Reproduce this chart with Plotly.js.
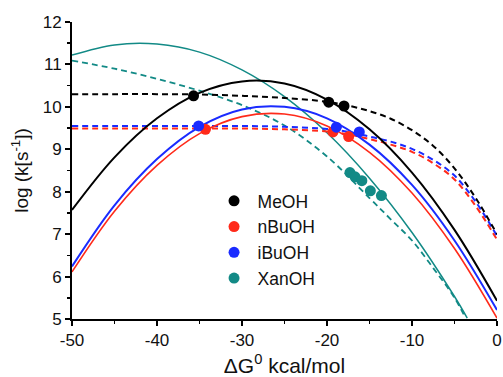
<!DOCTYPE html>
<html>
<head>
<meta charset="utf-8">
<script src="https://cdn.plot.ly/plotly-3.0.1.min.js"></script>
<style>html,body{margin:0;padding:0;background:#fff;}#chart{width:503px;height:377px;}</style>
</head>
<body>
<div id="chart"></div>
<script>
// ---- data ----
const curveX = [-50, -45, -40, -35, -30, -25, -20, -15, -10, -5, 0];

const meohSolid   = [7.57, 8.81, 9.73, 10.33, 10.60, 10.55, 10.17, 9.47, 8.45, 7.10, 5.43];
const nbuohSolid  = [6.11, 7.54, 8.62, 9.37, 9.77, 9.83, 9.55, 8.93, 7.97, 6.66, 5.02];
const ibuohSolid  = [6.24, 7.68, 8.77, 9.53, 9.94, 10.00, 9.73, 9.11, 8.16, 6.85, 5.21];
const xanSolidX   = [-50, -45, -40, -35, -30, -25, -20, -15, -10, -5, -3.5];
const xanSolid    = [11.22, 11.46, 11.48, 11.29, 10.87, 10.24, 9.39, 8.32, 7.04, 5.53, 5.02];

const dashX       = [-50, -45, -40, -35, -30, -25, -20, -17.5, -15, -12.5, -10, -7.5, -5, -2.5, 0];
const meohDash    = [10.30, 10.30, 10.30, 10.29, 10.26, 10.21, 10.12, 10.03, 9.90, 9.72, 9.45, 9.08, 8.55, 7.85, 7.00];
const ibuohDash   = [9.55, 9.55, 9.55, 9.55, 9.55, 9.53, 9.48, 9.41, 9.30, 9.18, 9.01, 8.75, 8.38, 7.76, 6.96];
const nbuohDash   = [9.49, 9.49, 9.49, 9.49, 9.49, 9.47, 9.42, 9.35, 9.24, 9.11, 8.94, 8.67, 8.29, 7.66, 6.87];
const xanDashX    = [-50, -45, -40, -35, -30, -25, -20, -15, -12.5, -10, -7.5, -5, -3.7];
const xanDash     = [11.09, 10.90, 10.66, 10.38, 10.04, 9.56, 8.83, 7.85, 7.35, 6.85, 6.20, 5.50, 5.02];

const meohPtsX  = [-35.7, -19.8, -18.0];
const meohPtsY  = [10.26, 10.11, 10.02];
const nbuohPtsX = [-34.3, -19.3, -17.45];
const nbuohPtsY = [9.47, 9.41, 9.30];
const ibuohPtsX = [-35.1, -18.9, -16.2];
const ibuohPtsY = [9.55, 9.52, 9.41];
const xanPtsX   = [-17.3, -16.7, -15.9, -14.9, -13.6];
const xanPtsY   = [8.45, 8.35, 8.26, 8.02, 7.91];

const seriesNames = ["MeOH", "nBuOH", "iBuOH", "XanOH"];
const xTickVals = [-50, -40, -30, -20, -10, 0];
const xTickText = ["-50", "-40", "-30", "-20", "-10", "0"];
const yTickVals = [5, 6, 7, 8, 9, 10, 11, 12];
const yTickText = ["5", "6", "7", "8", "9", "10", "11", "12"];

// ---- styles ----
const C = {black: "#000000", red: "#FF2A1A", blue: "#1A2BFF", teal: "#128A86"};
const DASH = "6px,4px";

function line(x, y, color, width, dash) {
  return {x: x, y: y, type: "scatter", mode: "lines", showlegend: false, hoverinfo: "skip",
          line: {color: color, width: width, dash: dash || "solid", shape: "spline", smoothing: 1.0}};
}
function pts(x, y, color, name) {
  return {x: x, y: y, type: "scatter", mode: "markers", name: name, cliponaxis: false,
          marker: {color: color, size: 11, line: {width: 0}}};
}

const traces = [
  line(xanSolidX, xanSolid, C.teal, 1.5),
  line(xanDashX, xanDash, C.teal, 1.8, DASH),
  line(dashX, nbuohDash, C.red, 2, DASH),
  line(dashX, ibuohDash, C.blue, 2, DASH),
  line(dashX, meohDash, C.black, 2, DASH),
  line(curveX, nbuohSolid, C.red, 1.6),
  line(curveX, ibuohSolid, C.blue, 2),
  line(curveX, meohSolid, C.black, 2),
  pts(meohPtsX, meohPtsY, C.black, seriesNames[0]),
  pts(nbuohPtsX, nbuohPtsY, C.red, seriesNames[1]),
  pts(ibuohPtsX, ibuohPtsY, C.blue, seriesNames[2]),
  pts(xanPtsX, xanPtsY, C.teal, seriesNames[3])
];

const FONT = "Liberation Sans, Arial, sans-serif";
const layout = {
  width: 503, height: 377,
  margin: {l: 72, r: 6, t: 22, b: 58},
  paper_bgcolor: "#fff", plot_bgcolor: "#fff",
  font: {family: FONT, color: "#111", size: 16},
  showlegend: true,
  legend: {x: 0.326, y: 0.458, xanchor: "left", yanchor: "top", bgcolor: "rgba(0,0,0,0)",
           font: {family: FONT, size: 17.5, color: "#111"}, tracegroupgap: 0, itemwidth: 37},
  xaxis: {
    range: [-50, 0], tickmode: "array", tickvals: xTickVals, ticktext: xTickText,
    ticks: "outside", ticklen: 5, tickwidth: 2, tickcolor: "#000",
    minor: {dtick: 5, ticks: "outside", ticklen: 3, tickwidth: 1.5, tickcolor: "#000", showgrid: false},
    showline: true, linewidth: 2, linecolor: "#000", mirror: false,
    showgrid: false, zeroline: false,
    tickfont: {family: FONT, size: 17, color: "#111"},
    title: {text: "ΔG<sup>0</sup> kcal/mol", font: {family: FONT, size: 21, color: "#111"}, standoff: 13}
  },
  yaxis: {
    range: [5, 12], tickmode: "array", tickvals: yTickVals, ticktext: yTickText,
    ticks: "outside", ticklen: 5, tickwidth: 2, tickcolor: "#000",
    minor: {dtick: 0.5, ticks: "outside", ticklen: 3, tickwidth: 1.5, tickcolor: "#000", showgrid: false},
    showline: true, linewidth: 2, linecolor: "#000", mirror: false,
    showgrid: false, zeroline: false,
    tickfont: {family: FONT, size: 17, color: "#111"},
    title: {text: "log (k[s<sup>-1</sup>])", font: {family: FONT, size: 19, color: "#111"}, standoff: 9}
  }
};

Plotly.newPlot("chart", traces, layout, {displayModeBar: false, staticPlot: true});
</script>
</body>
</html>
